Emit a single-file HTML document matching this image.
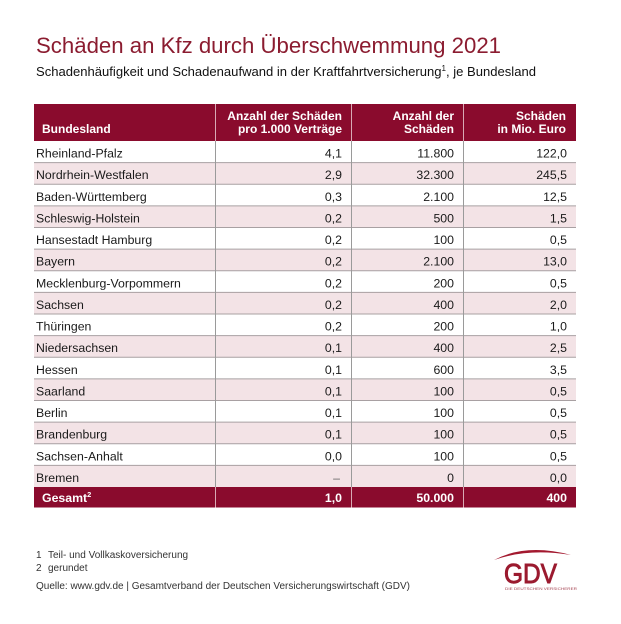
<!DOCTYPE html>
<html>
<head>
<meta charset="utf-8">
<style>
  html,body{margin:0;padding:0;background:#fff;}
  svg{display:block;}
  text{font-family:"Liberation Sans", "DejaVu Sans", sans-serif;}
</style>
</head>
<body>
<svg width="621" height="624" viewBox="0 0 621 624" xmlns="http://www.w3.org/2000/svg">
  <rect x="0" y="0" width="621" height="624" fill="#fff"/>

  <!-- Title -->
  <text x="36" y="53" font-size="22" fill="#8b1c30" textLength="465" lengthAdjust="spacingAndGlyphs">Schäden an Kfz durch Überschwemmung 2021</text>
  <text x="36" y="76" font-size="13" fill="#111" textLength="500" lengthAdjust="spacingAndGlyphs">Schadenhäufigkeit und Schadenaufwand in der Kraftfahrtversicherung<tspan font-size="8" dy="-5">1</tspan><tspan dy="5">, je Bundesland</tspan></text>

  <!-- Header -->
  <rect x="34" y="104" width="542" height="37" fill="#8a0b2d"/>
  <g stroke="#d9a9b4" stroke-width="1">
    <line x1="215.5" y1="104" x2="215.5" y2="141"/>
    <line x1="351.5" y1="104" x2="351.5" y2="141"/>
    <line x1="463.5" y1="104" x2="463.5" y2="141"/>
  </g>
  <g font-size="12" font-weight="bold" fill="#fff">
    <text x="42" y="133">Bundesland</text>
    <text x="342" y="120" text-anchor="end">Anzahl der Schäden</text>
    <text x="342" y="133" text-anchor="end">pro 1.000 Verträge</text>
    <text x="454" y="120" text-anchor="end">Anzahl der</text>
    <text x="454" y="133" text-anchor="end">Schäden</text>
    <text x="566" y="120" text-anchor="end">Schäden</text>
    <text x="566" y="133" text-anchor="end">in Mio. Euro</text>
  </g>

  <!-- Row backgrounds (pink rows) -->
  <g fill="#f3e3e6">
    <rect x="34" y="162.625" width="542" height="21.625"/>
    <rect x="34" y="205.875" width="542" height="21.625"/>
    <rect x="34" y="249.125" width="542" height="21.625"/>
    <rect x="34" y="292.375" width="542" height="21.625"/>
    <rect x="34" y="335.625" width="542" height="21.625"/>
    <rect x="34" y="378.875" width="542" height="21.625"/>
    <rect x="34" y="422.125" width="542" height="21.625"/>
    <rect x="34" y="465.375" width="542" height="21.625"/>
  </g>

  <!-- Horizontal row lines -->
  <g stroke="#a8a0a2" stroke-width="1">
    <line x1="34" y1="162.6" x2="576" y2="162.6"/>
    <line x1="34" y1="184.3" x2="576" y2="184.3"/>
    <line x1="34" y1="205.9" x2="576" y2="205.9"/>
    <line x1="34" y1="227.5" x2="576" y2="227.5"/>
    <line x1="34" y1="249.1" x2="576" y2="249.1"/>
    <line x1="34" y1="270.8" x2="576" y2="270.8"/>
    <line x1="34" y1="292.4" x2="576" y2="292.4"/>
    <line x1="34" y1="314.0" x2="576" y2="314.0"/>
    <line x1="34" y1="335.6" x2="576" y2="335.6"/>
    <line x1="34" y1="357.3" x2="576" y2="357.3"/>
    <line x1="34" y1="378.9" x2="576" y2="378.9"/>
    <line x1="34" y1="400.5" x2="576" y2="400.5"/>
    <line x1="34" y1="422.1" x2="576" y2="422.1"/>
    <line x1="34" y1="443.8" x2="576" y2="443.8"/>
    <line x1="34" y1="465.4" x2="576" y2="465.4"/>
  </g>
  <!-- Vertical lines body -->
  <g stroke="#9a9a9a" stroke-width="1">
    <line x1="215.5" y1="141" x2="215.5" y2="487"/>
    <line x1="351.5" y1="141" x2="351.5" y2="487"/>
    <line x1="463.5" y1="141" x2="463.5" y2="487"/>
  </g>

  <!-- Body text -->
  <g font-size="12.3" fill="#1a1a1a">
    <text x="36" y="157.5">Rheinland-Pfalz</text>
    <text x="342" y="157.5" text-anchor="end">4,1</text>
    <text x="454" y="157.5" text-anchor="end">11.800</text>
    <text x="567" y="157.5" text-anchor="end">122,0</text>

    <text x="36" y="179.1">Nordrhein-Westfalen</text>
    <text x="342" y="179.1" text-anchor="end">2,9</text>
    <text x="454" y="179.1" text-anchor="end">32.300</text>
    <text x="567" y="179.1" text-anchor="end">245,5</text>

    <text x="36" y="200.8">Baden-Württemberg</text>
    <text x="342" y="200.8" text-anchor="end">0,3</text>
    <text x="454" y="200.8" text-anchor="end">2.100</text>
    <text x="567" y="200.8" text-anchor="end">12,5</text>

    <text x="36" y="222.4">Schleswig-Holstein</text>
    <text x="342" y="222.4" text-anchor="end">0,2</text>
    <text x="454" y="222.4" text-anchor="end">500</text>
    <text x="567" y="222.4" text-anchor="end">1,5</text>

    <text x="36" y="244.0">Hansestadt Hamburg</text>
    <text x="342" y="244.0" text-anchor="end">0,2</text>
    <text x="454" y="244.0" text-anchor="end">100</text>
    <text x="567" y="244.0" text-anchor="end">0,5</text>

    <text x="36" y="265.6">Bayern</text>
    <text x="342" y="265.6" text-anchor="end">0,2</text>
    <text x="454" y="265.6" text-anchor="end">2.100</text>
    <text x="567" y="265.6" text-anchor="end">13,0</text>

    <text x="36" y="287.3">Mecklenburg-Vorpommern</text>
    <text x="342" y="287.3" text-anchor="end">0,2</text>
    <text x="454" y="287.3" text-anchor="end">200</text>
    <text x="567" y="287.3" text-anchor="end">0,5</text>

    <text x="36" y="308.9">Sachsen</text>
    <text x="342" y="308.9" text-anchor="end">0,2</text>
    <text x="454" y="308.9" text-anchor="end">400</text>
    <text x="567" y="308.9" text-anchor="end">2,0</text>

    <text x="36" y="330.5">Thüringen</text>
    <text x="342" y="330.5" text-anchor="end">0,2</text>
    <text x="454" y="330.5" text-anchor="end">200</text>
    <text x="567" y="330.5" text-anchor="end">1,0</text>

    <text x="36" y="352.1">Niedersachsen</text>
    <text x="342" y="352.1" text-anchor="end">0,1</text>
    <text x="454" y="352.1" text-anchor="end">400</text>
    <text x="567" y="352.1" text-anchor="end">2,5</text>

    <text x="36" y="373.8">Hessen</text>
    <text x="342" y="373.8" text-anchor="end">0,1</text>
    <text x="454" y="373.8" text-anchor="end">600</text>
    <text x="567" y="373.8" text-anchor="end">3,5</text>

    <text x="36" y="395.4">Saarland</text>
    <text x="342" y="395.4" text-anchor="end">0,1</text>
    <text x="454" y="395.4" text-anchor="end">100</text>
    <text x="567" y="395.4" text-anchor="end">0,5</text>

    <text x="36" y="417.0">Berlin</text>
    <text x="342" y="417.0" text-anchor="end">0,1</text>
    <text x="454" y="417.0" text-anchor="end">100</text>
    <text x="567" y="417.0" text-anchor="end">0,5</text>

    <text x="36" y="438.6">Brandenburg</text>
    <text x="342" y="438.6" text-anchor="end">0,1</text>
    <text x="454" y="438.6" text-anchor="end">100</text>
    <text x="567" y="438.6" text-anchor="end">0,5</text>

    <text x="36" y="460.3">Sachsen-Anhalt</text>
    <text x="342" y="460.3" text-anchor="end">0,0</text>
    <text x="454" y="460.3" text-anchor="end">100</text>
    <text x="567" y="460.3" text-anchor="end">0,5</text>

    <text x="36" y="481.9">Bremen</text>
    <text x="340" y="481.9" text-anchor="end" fill="#666">–</text>
    <text x="454" y="481.9" text-anchor="end">0</text>
    <text x="567" y="481.9" text-anchor="end">0,0</text>
  </g>

  <!-- Total row -->
  <rect x="34" y="487" width="542" height="20.5" fill="#8a0b2d"/>
  <g stroke="#d9a9b4" stroke-width="1">
    <line x1="215.5" y1="487" x2="215.5" y2="507.5"/>
    <line x1="351.5" y1="487" x2="351.5" y2="507.5"/>
    <line x1="463.5" y1="487" x2="463.5" y2="507.5"/>
  </g>
  <g font-size="12.3" font-weight="bold" fill="#fff">
    <text x="42" y="502">Gesamt<tspan font-size="7.5" dy="-5">2</tspan></text>
    <text x="342" y="502" text-anchor="end">1,0</text>
    <text x="454" y="502" text-anchor="end">50.000</text>
    <text x="567" y="502" text-anchor="end">400</text>
  </g>

  <!-- Footnotes -->
  <g font-size="10" fill="#333">
    <text x="36" y="558">1</text>
    <text x="48" y="558">Teil- und Vollkaskoversicherung</text>
    <text x="36" y="571">2</text>
    <text x="48" y="571">gerundet</text>
    <text x="36" y="589" textLength="374" lengthAdjust="spacingAndGlyphs">Quelle: www.gdv.de | Gesamtverband der Deutschen Versicherungswirtschaft (GDV)</text>
  </g>

  <!-- GDV logo -->
  <path d="M494,560 Q526,543 571,555 Q528,548 494,560 Z" fill="#a3192f"/>
  <text x="504" y="583" font-size="28" fill="#9b1a2f" stroke="#9b1a2f" stroke-width="0.9" textLength="53" lengthAdjust="spacingAndGlyphs">GDV</text>
  <text x="505" y="590" font-size="4" fill="#a3404f" textLength="72" lengthAdjust="spacingAndGlyphs">DIE DEUTSCHEN VERSICHERER</text>
</svg>
</body>
</html>
